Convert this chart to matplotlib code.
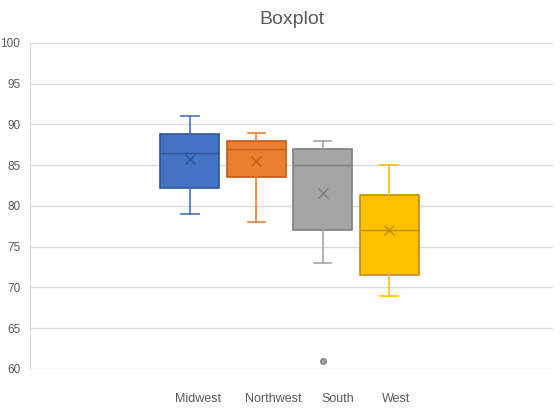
import matplotlib
matplotlib.use("Agg")
import matplotlib.pyplot as plt

# --- data ---
regions = ["Midwest", "Northwest", "South", "West"]
whis_lo = [79, 78, 73, 69]
q1 = [82.2, 83.5, 77, 71.5]
medians = [86.5, 87, 85, 77]
q3 = [88.8, 88, 87, 81.4]
whis_hi = [91, 89, 88, 85]
means = [85.8, 85.5, 81.6, 77]
outliers = [[], [], [61], []]

fill_colors = ["#4472C4", "#ED7D31", "#A5A5A5", "#FFC000"]
edge_colors = ["#2F5597", "#C55A11", "#7F7F7F", "#BF9000"]

plt.rcParams['font.family'] = ['Liberation Sans', 'DejaVu Sans']

fig = plt.figure(figsize=(5.6, 4.11), dpi=100)
ax = fig.add_axes([0.0536, 0.1022, 0.9339, 0.7932])

stats = []
for i in range(len(regions)):
    stats.append(dict(label=regions[i], whislo=whis_lo[i], q1=q1[i],
                      med=medians[i], q3=q3[i], whishi=whis_hi[i],
                      mean=means[i], fliers=outliers[i]))

positions = [1, 2, 3, 4]
bp = ax.bxp(stats, positions=positions, widths=0.89, capwidths=0.26,
            patch_artist=True, showmeans=True, showfliers=True)

for i in range(len(regions)):
    box = bp['boxes'][i]
    box.set_facecolor(fill_colors[i])
    box.set_edgecolor(edge_colors[i])
    box.set_linewidth(1.2)
    bp['medians'][i].set_color(edge_colors[i])
    bp['medians'][i].set_linewidth(1.0)
    for w in bp['whiskers'][2*i:2*i+2]:
        w.set_color(fill_colors[i])
        w.set_linewidth(1.2)
    for c in bp['caps'][2*i:2*i+2]:
        c.set_color(fill_colors[i])
        c.set_linewidth(1.2)
    m = bp['means'][i]
    m.set_marker('x')
    m.set_markeredgecolor(edge_colors[i])
    m.set_markerfacecolor(edge_colors[i])
    m.set_markersize(7)
    m.set_markeredgewidth(1.0)
    f = bp['fliers'][i]
    f.set_marker('o')
    f.set_markerfacecolor(fill_colors[i])
    f.set_markeredgecolor(edge_colors[i])
    f.set_markersize(4)

ax.set_ylim(60, 100)
ax.set_yticks(range(60, 101, 5))
ax.set_xlim(-1.41, 6.47)
ax.grid(axis='y', color='#D9D9D9', linewidth=1)
ax.set_axisbelow(True)

# category labels sit a bit off the box centres, like the reference
label_pos = [1.12, 2.25, 3.23, 4.1]
ax.set_xticks(label_pos)
ax.set_xticklabels(regions)

for s in ['top', 'right', 'bottom']:
    ax.spines[s].set_visible(False)
ax.spines['left'].set_color('#D9D9D9')
ax.tick_params(axis='both', length=0, colors='#595959', labelsize=9)
ax.tick_params(axis='y', labelsize=8.5, pad=7)
ax.tick_params(axis='x', pad=17)

ax.set_title("Boxplot", fontsize=14, color='#595959', pad=14)

fig.savefig("out.png", dpi=100)
